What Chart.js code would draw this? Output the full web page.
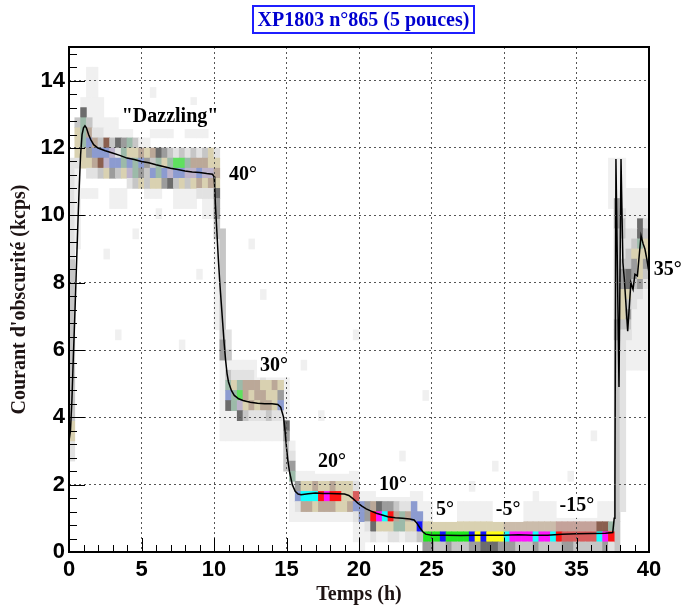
<!DOCTYPE html>
<html>
<head>
<meta charset="utf-8">
<title>XP1803 n°865</title>
<script src="https://cdn.jsdelivr.net/npm/chart.js@4.4.1/dist/chart.umd.min.js"></script>
<style>
  html, body { margin: 0; padding: 0; background: #fff; }
  #wrap { position: relative; width: 685px; height: 608px; }
  #chart { position: absolute; left: 0; top: 0; }
  #title {
    position: absolute; left: 252px; top: 5px; width: 223px; height: 29px;
    box-sizing: border-box; border: 2px solid #1f1fff;
    font: bold 20px "Liberation Serif", serif; color: #0000d0;
    text-align: center; line-height: 25px; white-space: nowrap;
  }
</style>
</head>
<body>
<div id="wrap">
  <canvas id="chart" width="685" height="608"></canvas>
  <div id="title">XP1803 n°865 (5 pouces)</div>
</div>
<script>
// Mean dark current (profile) vs time
const hours = [
  0, 0.1, 0.2, 0.3, 0.4, 0.5, 0.6, 0.7, 0.8, 0.9,
  1.0, 1.1, 1.2, 1.35, 1.5, 1.7, 2.0, 2.5, 3.0, 3.5,
  4.0, 4.5, 5.0, 5.5, 6.0, 6.5, 7.0, 7.5, 8.0, 8.5,
  9.0, 9.5, 9.9, 10.0, 10.05, 10.1, 10.2, 10.3, 10.4, 10.5,
  10.6, 10.7, 10.8, 10.9, 11.0, 11.2, 11.4, 11.7, 12.0, 12.5,
  13.0, 13.5, 14.0, 14.4, 14.6, 14.8, 14.9, 15.0, 15.1, 15.2,
  15.4, 15.6, 15.8, 16.0, 16.5, 17.0, 17.5, 18.0, 18.5, 19.0,
  19.3, 19.6, 19.9, 20.2, 20.5, 20.8, 21.2, 21.6, 22.0, 22.5,
  23.0, 23.5, 23.8, 24.0, 24.2, 24.4, 24.6, 25.0, 26.0, 27.0,
  28.0, 29.0, 30.0, 31.0, 32.0, 33.0, 34.0, 35.0, 36.0, 37.0,
  37.5, 37.6, 37.65, 37.72, 37.93, 38.07, 38.2, 38.3, 38.53, 38.75,
  38.9, 39.03, 39.2, 39.45, 39.6, 39.72, 39.85, 40.0
];
const rate = [
  3.3, 3.6, 4.5, 5.8, 7.0, 8.3, 9.6, 10.8, 11.8, 12.4,
  12.6, 12.66, 12.6, 12.4, 12.25, 12.1, 12.0, 11.92, 11.85, 11.78,
  11.7, 11.66, 11.6, 11.56, 11.5, 11.45, 11.4, 11.36, 11.32, 11.29,
  11.27, 11.24, 11.22, 11.15, 10.8, 10.3, 9.5, 8.7, 8.0, 7.4,
  6.8, 6.2, 5.7, 5.3, 5.05, 4.8, 4.65, 4.55, 4.5, 4.45,
  4.42, 4.4, 4.4, 4.38, 4.3, 4.0, 3.6, 3.1, 2.7, 2.4,
  2.0, 1.8, 1.72, 1.7, 1.73, 1.75, 1.74, 1.74, 1.73, 1.72,
  1.68, 1.58, 1.46, 1.36, 1.28, 1.22, 1.15, 1.1, 1.05, 1.02,
  1.0, 0.98, 0.95, 0.85, 0.72, 0.6, 0.53, 0.5, 0.5, 0.49,
  0.5, 0.5, 0.5, 0.51, 0.5, 0.5, 0.53, 0.54, 0.55, 0.56,
  0.58, 1.0, 1.9, 11.67, 4.9, 11.67, 8.6, 8.1, 6.56, 8.0,
  7.8, 8.25, 8.2, 9.4, 9.15, 9.0, 8.7, 8.3
];

// 2D histogram: bins of 0.4 h x 0.3 kcps, colour level per cell
// each row: bottom edge, first bin start, levels of consecutive bins (0 = empty)
const rowY = [
  12.9, 12.6, 12.3, 12.0, 11.7, 11.4, 11.1, 10.8, 10.5, 10.2,
  9.9, 6.0, 5.7, 5.1, 4.8, 4.5, 4.2, 3.9, 3.6, 3.3,
  2.7, 2.4, 2.1, 1.8, 1.5, 1.2, 0.9, 0.6, 0.6, 0.3,
  0.0, 0.3, 10.2, 9.9, 9.6, 9.3, 9.0, 8.7, 8.4, 8.1,
  7.8, 7.5, 7.2, 6.9, 6.6, 6.3
];
const rowX0 = [
  0.8, 0.4, 0.4, 0.4, 0.4, 0.4, 1.2, 4.0, 8.8, 10.0,
  10.0, 10.4, 10.4, 10.8, 10.8, 10.8, 10.8, 11.6, 14.8, 14.8,
  15.2, 15.2, 15.2, 15.6, 15.6, 15.6, 19.6, 20.4, 24.4, 24.4,
  24.4, 20.4, 37.6, 37.6, 37.6, 37.6, 37.6, 37.6, 37.6, 37.6,
  37.6, 37.6, 37.6, 37.6, 37.6, 37.6
];
const rowZ = [
  [5],
  [3, 8, 3],
  [6, 8, 7, 2, 2, 1],
  [6, 8, 9, 7, 3, 18, 3, 5, 4, 8, 3, 1, 1],
  [6, 6, 4, 9, 9, 9, 10, 2, 8, 6, 6, 7, 6, 7, 5, 4, 3, 2, 3, 2, 3, 2, 3, 6, 2],
  [2, 6, 6, 7, 18, 10, 9, 9, 8, 9, 8, 9, 4, 3, 8, 6, 8, 19, 19, 8, 7, 7, 7, 6, 6],
  [2, 2, 3, 6, 4, 3, 6, 10, 8, 4, 3, 9, 8, 9, 10, 9, 9, 10, 10, 9, 10, 10, 7],
  [2, 3, 6, 3, 6, 6, 4, 5, 3, 6, 3, 6, 7, 6, 7, 6],
  [2, 2, 2, 5],
  [4],
  [4],
  [4],
  [4, 3],
  [3, 2, 2, 2, 2, 1, 2, 1, 1, 1],
  [8, 6, 8, 7, 7, 7, 6, 6, 7, 6],
  [9, 8, 19, 7, 6, 7, 7, 6, 6, 4],
  [5, 8, 10, 6, 7, 6, 7, 7, 6, 9],
  [5, 3, 2, 2, 2, 3, 2, 2],
  [5],
  [4],
  [2],
  [4],
  [8],
  [4, 6, 6, 7, 6, 6, 7, 6, 6, 6, 2],
  [9, 14, 14, 14, 16, 15, 16, 16, 6, 6, 17],
  [2, 7, 7, 6, 7, 7, 7, 6, 6, 7, 9, 9, 4, 7, 5, 4, 4, 3, 2, 2, 9],
  [2, 9, 4, 16, 15, 14, 16, 7, 8, 7, 9, 9],
  [2, 5, 6, 6, 6, 8, 8, 6, 6, 12],
  [6, 6, 6, 6, 6, 6, 6, 6, 6, 6, 6, 6, 6, 6, 20, 20, 20, 20, 20, 20, 20, 20, 20,
   21, 21, 21, 21, 21, 21, 21, 18, 18, 8],
  [11, 11, 11, 12, 11, 11, 11, 11, 12, 13, 12, 13, 13, 13, 14, 15, 15, 15, 15, 14,
   15, 15, 14, 16, 17, 17, 17, 17, 17, 17, 14, 15, 16],
  [4, 4, 3, 3, 4, 3, 3, 3, 4, 4, 5, 5, 5, 4, 4, 4, 3, 3, 3, 4, 3, 3, 3, 3, 4, 4,
   3, 3, 3, 3, 3, 4, 2],
  [1, 2, 1, 1, 2, 2, 1, 2, 2, 3],
  [4, 1],
  [4, 2, 0, 0, 1, 1],
  [4, 3, 1, 1, 5, 2],
  [3, 3, 2, 2, 5, 3],
  [3, 2, 2, 3, 8, 6],
  [3, 2, 3, 6, 6, 6],
  [3, 3, 3, 4, 6, 4],
  [3, 4, 5, 4, 6, 3],
  [3, 4, 5, 3, 4, 2],
  [3, 6, 6, 2, 2, 1],
  [3, 6, 3, 2, 1],
  [3, 6, 4, 1],
  [4, 3, 3, 1],
  [4, 2, 2]
];

// uniform blocks of cells (faint background and long columns)
const blockX0 = [0.0, 0.0, 0.0, 0.0, 0.4,
  0.4, 2.8, 5.2, 7.2, 9.2, 1.2, 5.6, 8.0,
  0.8, 1.2, 10.0, 10.0, 10.4, 10.8, 10.4, 14.8, 15.2, 15.2, 19.6, 24.0, 20.0,
  38.0, 37.6, 38.0, 37.2, 37.6,
  2.4, 4.4, 6.0, 3.2, 7.6, 8.8, 13.2, 17.2, 24.4, 19.6, 29.2, 34.4, 36.0, 12.4, 5.6, 8.4, 16.0, 22.8, 27.6, 32.0];
const blockX1 = [0.4, 0.4, 0.4, 0.4, 0.8,
  2.0, 4.0, 6.4, 8.8, 10.0, 4.4, 7.2, 9.6,
  2.4, 2.0, 10.4, 10.4, 10.8, 11.2, 15.2, 15.2, 15.6, 20.0, 24.4, 37.6, 20.4,
  40.0, 38.0, 38.4, 38.4, 38.0,
  2.8, 4.8, 6.4, 3.6, 8.0, 9.2, 13.6, 17.6, 24.8, 20.0, 29.6, 34.8, 36.4, 12.8, 6.0, 8.8, 16.4, 23.2, 28.0, 32.4];
const blockY0 = [2.7, 3.3, 3.9, 8.7, 9.0,
  10.5, 10.2, 10.5, 10.2, 9.9, 12.3, 12.3, 12.3,
  12.9, 13.5, 6.6, 9.3, 6.3, 5.4, 3.3, 2.4, 2.7, 0.9, 0.3, 0.9, 0.0,
  5.4, 0.9, 1.2, 10.2, 0.0,
  8.7, 9.3, 9.9, 6.3, 6.0, 8.1, 7.5, 3.9, 4.5, 6.3, 2.4, 2.1, 3.3, 9.0, 13.5, 13.2, 5.4, 2.7, 1.8, 1.5];
const blockY1 = [3.3, 3.9, 8.7, 11.7, 11.4,
  10.8, 10.8, 10.8, 10.8, 10.5, 12.9, 12.6, 12.6,
  13.5, 14.4, 9.3, 9.9, 9.6, 6.6, 5.7, 3.3, 3.3, 2.4, 1.8, 1.5, 0.3,
  10.8, 10.2, 6.3, 11.7, 0.9,
  9.0, 9.6, 10.2, 6.6, 6.3, 8.4, 7.8, 4.2, 4.8, 6.6, 2.7, 2.4, 3.6, 9.3, 13.8, 13.5, 5.7, 3.0, 2.1, 1.8];
const blockZ = [2, 6, 3, 2, 1,
  1, 1, 1, 1, 1, 1, 1, 1,
  1, 1, 1, 3, 3, 2, 1, 3, 1, 1, 1, 1, 1,
  1, 3, 2, 1, 3,
  1, 1, 1, 1, 1, 1, 1, 1, 1, 1, 1, 1, 1, 1, 1, 1, 1, 1, 1, 1];

// temperature labels
const tagText = ['"Dazzling"', '40°', '30°', '20°', '10°', '5°', '-5°', '-15°', '35°'];
const tagX = [6.97, 12.0, 14.14, 18.14, 22.34, 25.93, 30.28, 35.03, 41.3];
const tagY = [12.92, 11.19, 5.54, 2.68, 1.99, 1.25, 1.25, 1.37, 8.39];

const BIN_W = 0.4, BIN_H = 0.3;
const palette = [null,
  '#f0f0f0', '#e2e2e2', '#c6c6c6', '#9c9c9c', '#6c6c6c',
  '#d9d1b1', '#bba898', '#9cbaa9', '#8c9bd0', '#bdb3cb',
  '#1ee81e', '#1414ff', '#ffff14', '#14ffff', '#ff14ff',
  '#ff1414', '#d85c5c', '#8a5f4f', '#5fe05f', '#cbbcab', '#c4a29a'];

const r2 = v => Math.round(v * 100) / 100;

const blockCells = [];
blockX0.forEach((x0, i) => {
  for (let x = x0; x < blockX1[i] - 0.01; x += BIN_W) {
    blockCells.push({x: r2(x + BIN_W / 2), y: [blockY0[i], blockY1[i]], z: blockZ[i]});
  }
});

const rowCells = [];
rowY.forEach((y, i) => {
  rowZ[i].forEach((z, k) => {
    if (z) rowCells.push({x: r2(rowX0[i] + k * BIN_W + BIN_W / 2), y: [y, r2(y + BIN_H)], z: z});
  });
});

const cellStyle = {
  type: 'bar',
  grouped: false,
  barPercentage: 1,
  categoryPercentage: 1,
  borderWidth: 0,
  backgroundColor: c => (c.raw ? palette[c.raw.z] : '#ccc')
};

const tickFont = {family: 'Liberation Sans', weight: 'bold', size: 22};
const titleFont = {family: 'Liberation Serif', weight: 'bold', size: 20};
const gridColor = edges => c => (c.tick && edges.includes(c.tick.value) ? 'rgba(0,0,0,0)' : '#555');

// inner ticks, frame and temperature labels (ROOT style)
const decor = {
  id: 'decor',
  afterDraw(chart) {
    const {ctx, chartArea: a, scales: {x, y}} = chart;
    ctx.save();

    ctx.font = 'bold 20px "Liberation Serif"';
    ctx.textAlign = 'center';
    ctx.textBaseline = 'middle';
    tagText.forEach((t, i) => {
      const px = x.getPixelForValue(tagX[i]);
      const py = y.getPixelForValue(tagY[i]);
      const w = ctx.measureText(t).width;
      ctx.fillStyle = '#fff';
      ctx.fillRect(px - w / 2 - 3, py - 12, w + 6, 24);
      ctx.fillStyle = '#000';
      ctx.fillText(t, px, py);
    });

    ctx.strokeStyle = '#000';
    ctx.lineWidth = 1;
    ctx.beginPath();
    for (let v = 1; v < 40; v++) {
      const px = Math.round(x.getPixelForValue(v)) + 0.5;
      const len = v % 5 === 0 ? 14 : 7;
      ctx.moveTo(px, a.bottom);
      ctx.lineTo(px, a.bottom - len);
    }
    for (let i = 1; i * 0.4 < 15; i++) {
      const py = Math.round(y.getPixelForValue(i * 0.4)) + 0.5;
      const len = i % 5 === 0 ? 16 : 8;
      ctx.moveTo(a.left, py);
      ctx.lineTo(a.left + len, py);
    }
    ctx.stroke();

    ctx.lineWidth = 2;
    ctx.strokeRect(a.left, a.top, a.right - a.left, a.bottom - a.top);
    ctx.restore();
  }
};

new Chart(document.getElementById('chart'), {
  type: 'bar',
  data: {
    datasets: [
      {
        type: 'line',
        label: 'profil',
        data: hours.map((h, i) => ({x: h, y: rate[i]})),
        borderColor: '#000',
        borderWidth: 1.5,
        pointRadius: 0,
        tension: 0,
        order: 0
      },
      Object.assign({label: 'cellules', data: rowCells, order: 1}, cellStyle),
      Object.assign({label: 'fond', data: blockCells, order: 2}, cellStyle)
    ]
  },
  options: {
    responsive: false,
    animation: false,
    devicePixelRatio: 1,
    events: [],
    layout: {padding: {top: 47, right: 36, left: 0, bottom: 0}},
    plugins: {
      legend: {display: false},
      tooltip: {enabled: false}
    },
    scales: {
      x: {
        type: 'linear',
        min: 0,
        max: 40,
        offset: false,
        afterFit: s => { s.height = 56; },
        ticks: {stepSize: 5, padding: 5, color: '#000', font: tickFont, maxRotation: 0, autoSkip: false},
        grid: {z: 1, drawTicks: false, offset: false, lineWidth: 1, color: gridColor([0, 40])},
        border: {display: false, dash: [2, 3]},
        title: {display: true, text: 'Temps (h)', color: '#1e1414', font: titleFont, padding: {top: 0, bottom: 1}}
      },
      y: {
        type: 'linear',
        min: 0,
        max: 15,
        afterFit: s => { s.width = 69; },
        ticks: {stepSize: 2, includeBounds: false, padding: 4, color: '#000', font: tickFont},
        grid: {z: 1, drawTicks: false, lineWidth: 1, color: gridColor([0])},
        border: {display: false, dash: [2, 3]},
        title: {display: true, text: "Courant d'obscurité (kcps)", color: '#1e1414', font: titleFont, padding: {top: 8, bottom: 0}}
      }
    }
  },
  plugins: [decor]
});
</script>
</body>
</html>
